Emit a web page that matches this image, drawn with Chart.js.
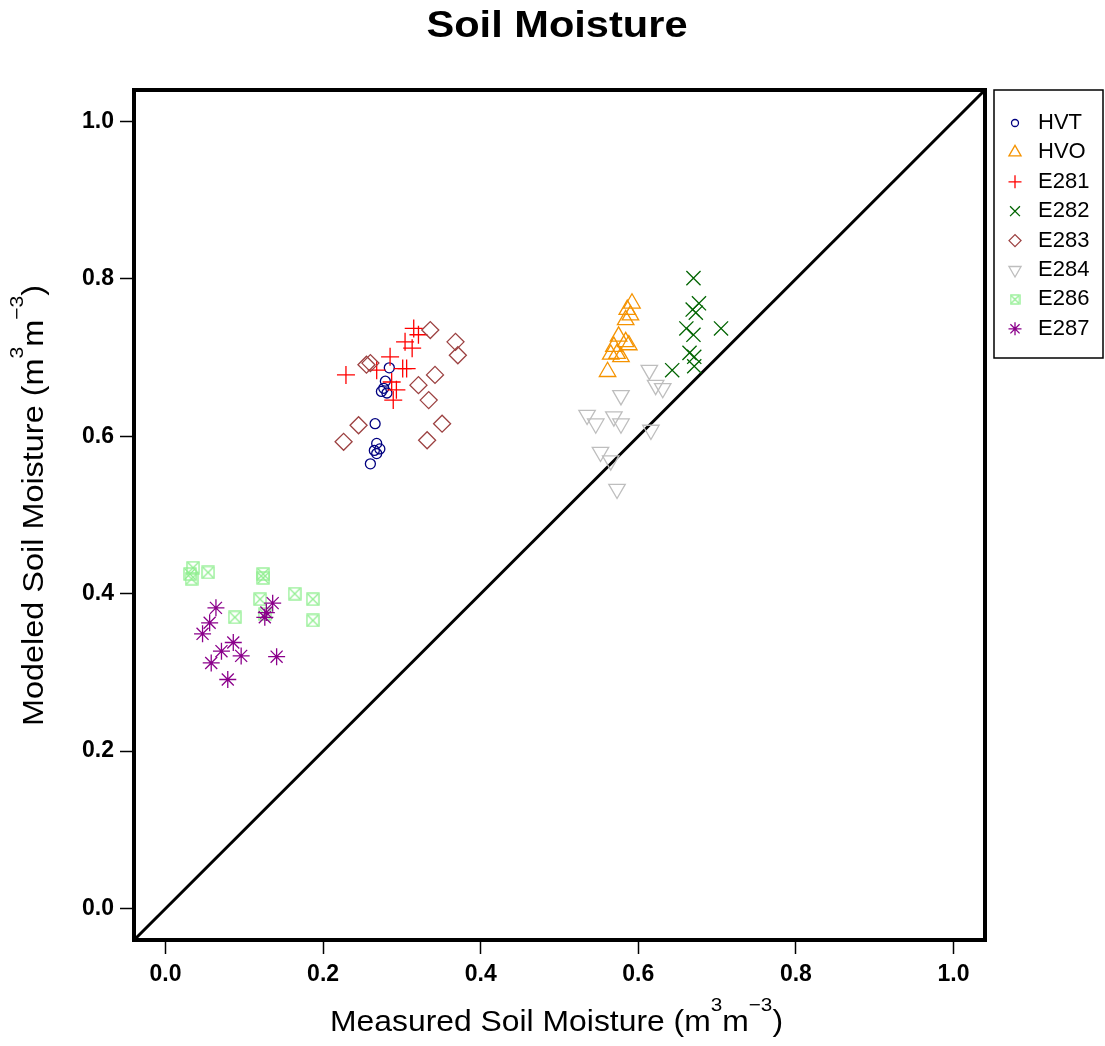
<!DOCTYPE html>
<html>
<head>
<meta charset="utf-8">
<title>Soil Moisture</title>
<script src="https://cdn.jsdelivr.net/npm/chart.js@4.4.1/dist/chart.umd.min.js"></script>
<style>
  html, body { margin: 0; padding: 0; background: #fff; }
  #wrap { width: 1105px; height: 1046px; position: relative; }
</style>
</head>
<body>
<div id="wrap"><canvas id="soil-chart"></canvas></div>
<script>
// [measured, modeled] soil moisture per site
var HVT = [[0.284, 0.687], [0.279, 0.670], [0.274, 0.657], [0.281, 0.655], [0.277, 0.661],
  [0.266, 0.616], [0.268, 0.591], [0.272, 0.584], [0.265, 0.582], [0.268, 0.578], [0.260, 0.565]];
var HVO = [[0.592, 0.769], [0.586, 0.761], [0.590, 0.754], [0.584, 0.748], [0.575, 0.727],
  [0.584, 0.720], [0.588, 0.716], [0.569, 0.714], [0.573, 0.705], [0.565, 0.704], [0.578, 0.701], [0.561, 0.682]];
var E281 = [[0.229, 0.678], [0.315, 0.737], [0.321, 0.729], [0.304, 0.720], [0.313, 0.712], [0.285, 0.701],
  [0.301, 0.686], [0.306, 0.686], [0.268, 0.684], [0.287, 0.669], [0.293, 0.659], [0.289, 0.646]];
var E282 = [[0.670, 0.801], [0.677, 0.769], [0.669, 0.761], [0.673, 0.757], [0.705, 0.737], [0.661, 0.737],
  [0.670, 0.729], [0.665, 0.706], [0.671, 0.701], [0.643, 0.684], [0.671, 0.689]];
var E283 = [[0.336, 0.735], [0.368, 0.720], [0.371, 0.703], [0.255, 0.691], [0.260, 0.693], [0.342, 0.678],
  [0.321, 0.665], [0.334, 0.646], [0.351, 0.616], [0.245, 0.614], [0.226, 0.593], [0.332, 0.595]];
var E284 = [[0.614, 0.684], [0.622, 0.665], [0.631, 0.661], [0.578, 0.652], [0.535, 0.627], [0.546, 0.616],
  [0.569, 0.625], [0.578, 0.616], [0.616, 0.608], [0.552, 0.580], [0.565, 0.569], [0.573, 0.533]];
var E286 = [[0.035, 0.433], [0.031, 0.425], [0.033, 0.419], [0.054, 0.427], [0.124, 0.425], [0.124, 0.420],
  [0.120, 0.393], [0.088, 0.370], [0.164, 0.400], [0.187, 0.393], [0.187, 0.366], [0.126, 0.374]];
var E287 = [[0.064, 0.382], [0.056, 0.363], [0.047, 0.349], [0.136, 0.388], [0.128, 0.376], [0.126, 0.370],
  [0.086, 0.338], [0.071, 0.327], [0.096, 0.321], [0.141, 0.320], [0.058, 0.312], [0.079, 0.291]];

var seriesNames = ['HVT', 'HVO', 'E281', 'E282', 'E283', 'E284', 'E286', 'E287'];
var seriesData = [HVT, HVO, E281, E282, E283, E284, E286, E287];
var tickValues = [0.0, 0.2, 0.4, 0.6, 0.8, 1.0];
var axisMin = -0.04, axisMax = 1.04;
var oneToOne = [axisMin, axisMax];

var FONT = "'Liberation Sans', Arial, Helvetica, sans-serif";

// square with an x inside, drawn once and used as an image point style
function boxX(size, color) {
  var c = document.createElement('canvas');
  c.width = size; c.height = size;
  var g = c.getContext('2d');
  g.strokeStyle = color;
  g.lineWidth = 1.3;
  g.strokeRect(1, 1, size - 2, size - 2);
  g.beginPath();
  g.moveTo(2, 2); g.lineTo(size - 2, size - 2);
  g.moveTo(size - 2, 2); g.lineTo(2, size - 2);
  g.stroke();
  return c;
}

var markers = [
  {color: '#000080', style: 'circle', r: 5, rot: 0, lr: 3.5},
  {color: '#F59300', style: 'triangle', r: 9.5, rot: 0, lr: 7},
  {color: '#FF0000', style: 'cross', r: 9, rot: 0, lr: 6.5},
  {color: '#006400', style: 'crossRot', r: 10, rot: 0, lr: 7},
  {color: '#9C4141', style: 'rectRot', r: 8.5, rot: 0, lr: 6},
  {color: '#BEBEBE', style: 'triangle', r: 9.5, rot: 180, lr: 7},
  {color: '#90EE90', style: boxX(14, '#90EE90'), r: 7, rot: 0, lr: 5, legendStyle: boxX(11, '#90EE90')},
  {color: '#8B008B', style: 'star', r: 8.5, rot: 0, lr: 6.5}
];

var datasets = seriesData.map(function (pts, i) {
  var m = markers[i];
  return {
    type: 'scatter',
    label: seriesNames[i],
    data: pts.map(function (p) { return {x: p[0], y: p[1]}; }),
    pointStyle: m.style,
    pointRadius: m.r,
    pointRotation: m.rot,
    pointBorderColor: m.color,
    pointBackgroundColor: 'rgba(0,0,0,0)',
    pointBorderWidth: 1.3,
    order: seriesNames.length - i
  };
});

// 1:1 line across the whole plot
datasets.push({
  type: 'line',
  label: '1:1',
  data: oneToOne.map(function (v) { return {x: v, y: v}; }),
  borderColor: '#000',
  borderWidth: 3,
  pointRadius: 0,
  order: 100
});

// draws a centred string made of normal and superscript parts, squeezed to a width
function drawRich(ctx, parts, size, weight, width) {
  var total = 0;
  parts.forEach(function (p) {
    var s = p.sup ? size * 0.65 : size;
    ctx.font = weight + ' ' + s + 'px ' + FONT;
    p.w = ctx.measureText(p.t).width;
    total += p.w;
  });
  ctx.save();
  ctx.scale(width / total, 1);
  var x = -total / 2;
  ctx.textAlign = 'left';
  ctx.textBaseline = 'alphabetic';
  parts.forEach(function (p) {
    var s = p.sup ? size * 0.65 : size;
    ctx.font = weight + ' ' + s + 'px ' + FONT;
    ctx.fillText(p.t, x, p.sup ? -size * 0.7 : 0);
    x += p.w;
  });
  ctx.restore();
}

var unitParts = [{t: ' (m'}, {t: '3', sup: true}, {t: 'm'}, {t: '\u22123', sup: true}, {t: ')'}];

var frame = {
  id: 'frame',
  afterDraw: function (chart) {
    var ctx = chart.ctx, a = chart.chartArea;
    ctx.save();
    ctx.fillStyle = '#000';
    ctx.strokeStyle = '#000';

    // plot box
    ctx.lineWidth = 4;
    ctx.strokeRect(a.left, a.top, a.right - a.left, a.bottom - a.top);

    // title
    ctx.save();
    ctx.translate(557, 37);
    drawRich(ctx, [{t: 'Soil Moisture'}], 36, 'bold', 261);
    ctx.restore();

    // x axis title
    ctx.save();
    ctx.translate(556.5, 1031);
    drawRich(ctx, [{t: 'Measured Soil Moisture'}].concat(unitParts), 29, 'normal', 453);
    ctx.restore();

    // y axis title
    ctx.save();
    ctx.translate(43, 505.5);
    ctx.rotate(-Math.PI / 2);
    drawRich(ctx, [{t: 'Modeled Soil Moisture'}].concat(unitParts), 29, 'normal', 441);
    ctx.restore();

    // legend
    ctx.lineWidth = 1.5;
    ctx.strokeRect(994, 90, 109, 268);
    ctx.font = '22px ' + FONT;
    ctx.textAlign = 'left';
    ctx.textBaseline = 'middle';
    seriesNames.forEach(function (name, i) {
      var y = 123 + i * 29.4;
      var m = markers[i];
      ctx.save();
      ctx.strokeStyle = m.color;
      ctx.fillStyle = 'rgba(0,0,0,0)';
      ctx.lineWidth = 1.3;
      Chart.helpers.drawPoint(ctx, {
        pointStyle: m.legendStyle || m.style,
        radius: m.lr,
        rotation: m.rot,
        borderWidth: 1.3
      }, 1015, y);
      ctx.restore();
      ctx.fillStyle = '#000';
      ctx.fillText(name, 1038, y);
    });
    ctx.restore();
  }
};

function axis(isX) {
  return {
    type: 'linear',
    min: axisMin,
    max: axisMax,
    afterBuildTicks: function (s) {
      s.ticks = tickValues.map(function (v) { return {value: v}; });
    },
    afterFit: function (s) {
      if (isX) s.height = 106; else s.width = 134;
    },
    grid: {
      display: true,
      drawOnChartArea: false,
      drawTicks: true,
      tickLength: 14,
      tickColor: '#000',
      tickWidth: 1.5,
      color: '#000'
    },
    border: {display: false},
    ticks: {
      color: '#000',
      padding: isX ? 7 : 6,
      maxRotation: 0,
      font: {family: FONT, size: 23, weight: 'bold'},
      callback: function (v) { return Number(v).toFixed(1); }
    }
  };
}

new Chart(document.getElementById('soil-chart').getContext('2d'), {
  type: 'scatter',
  data: {datasets: datasets},
  options: {
    responsive: true,
    maintainAspectRatio: false,
    animation: false,
    layout: {padding: {left: 0, top: 90, right: 120, bottom: 0}},
    plugins: {
      legend: {display: false},
      tooltip: {enabled: false},
      title: {display: false}
    },
    scales: {x: axis(true), y: axis(false)}
  },
  plugins: [frame]
});
</script>
</body>
</html>
